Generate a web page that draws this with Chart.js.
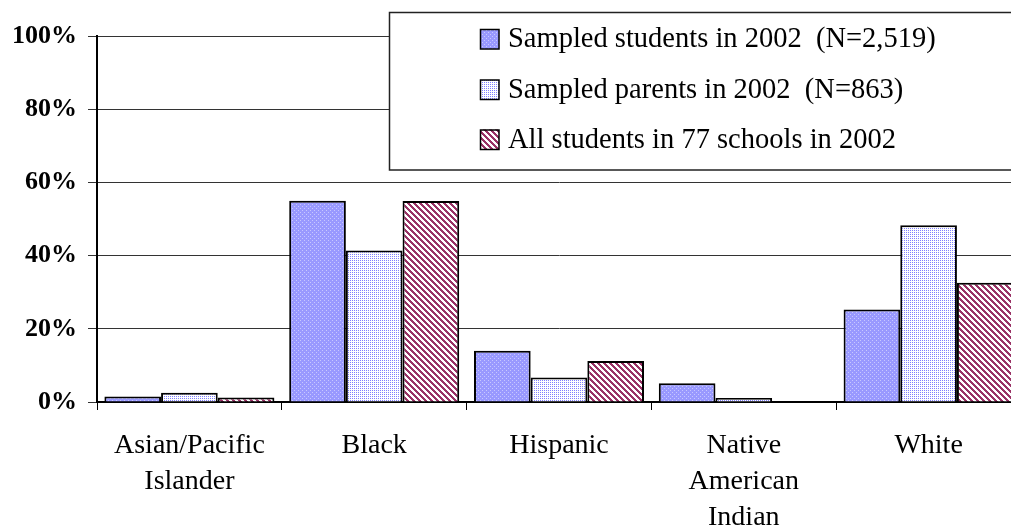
<!DOCTYPE html>
<html>
<head>
<meta charset="utf-8">
<script src="https://cdn.jsdelivr.net/npm/chart.js@4/dist/chart.umd.min.js"></script>
<style>
  html, body { margin: 0; padding: 0; background: #fff; overflow: hidden; }
  #wrap { position: relative; width: 1021px; height: 529px; }
</style>
</head>
<body>
<div id="wrap"><canvas id="c"></canvas></div>
<script>
const categories = [["Asian/Pacific", "Islander"], "Black", "Hispanic", ["Native", "American", "Indian"], "White"];
const seriesLabels = ["Sampled students in 2002  (N=2,519)", "Sampled parents in 2002  (N=863)", "All students in 77 schools in 2002"];
const sampledStudents = [1.5, 55.0, 14.0, 5.1, 25.3];
const sampledParents = [2.5, 41.4, 6.7, 1.1, 48.3];
const allStudents = [1.2, 54.9, 11.2, 0, 32.6];
const yTicks = [0, 20, 40, 60, 80, 100];

function makePattern(size, pix) {
  const c = document.createElement('canvas');
  c.width = size; c.height = size;
  const g = c.getContext('2d');
  const img = g.createImageData(size, size);
  for (let y = 0; y < size; y++) for (let x = 0; x < size; x++) {
    const col = pix(x, y);
    const i = (y * size + x) * 4;
    img.data[i] = col[0]; img.data[i + 1] = col[1]; img.data[i + 2] = col[2]; img.data[i + 3] = 255;
  }
  g.putImageData(img, 0, 0);
  return g.createPattern(c, 'repeat');
}
const patStudents = makePattern(4, (x, y) => ((x === 0 && y === 0) || (x === 2 && y === 2)) ? [200, 200, 255] : [153, 153, 255]);
const patParents = makePattern(2, (x, y) => (x === 0 && y === 0) ? [128, 128, 255] : [255, 255, 255]);
const patAll = makePattern(6, (x, y) => (((x - y) % 6 + 6) % 6) < 3 ? [153, 51, 102] : [255, 255, 255]);
const fills = [patStudents, patParents, patAll];

const legendBox = {
  id: 'legendBox',
  afterDraw(chart) {
    const ctx = chart.ctx;
    ctx.save();
    ctx.fillStyle = '#fff';
    ctx.strokeStyle = '#222';
    ctx.lineWidth = 1.5;
    ctx.fillRect(389, 12, 700, 158);
    ctx.strokeRect(389.5, 12.5, 700, 157.5);
    ctx.font = '28.5px "Liberation Serif", "Times New Roman", serif';
    ctx.textBaseline = 'middle';
    ctx.textAlign = 'left';
    const rows = [39, 89.5, 139.5];
    chart.data.datasets.forEach((ds, i) => {
      const cy = rows[i];
      ctx.fillStyle = ds.backgroundColor;
      ctx.fillRect(480, cy - 10, 19, 20);
      ctx.strokeStyle = '#000';
      ctx.lineWidth = 1.5;
      ctx.strokeRect(480.5, cy - 9.5, 18.5, 19.5);
      ctx.fillStyle = '#000';
      ctx.fillText(ds.label, 508, cy + 1);
    });
    ctx.restore();
  }
};

const mkDs = (label, data, fill) => ({
  label, data, backgroundColor: fill, borderColor: '#000', borderWidth: 2,
  categoryPercentage: 0.92, barPercentage: 1.0, borderSkipped: 'start'
});

new Chart(document.getElementById('c'), {
  type: 'bar',
  data: {
    labels: categories,
    datasets: [
      mkDs(seriesLabels[0], sampledStudents, fills[0]),
      mkDs(seriesLabels[1], sampledParents, fills[1]),
      mkDs(seriesLabels[2], allStudents, fills[2])
    ]
  },
  options: {
    responsive: true,
    maintainAspectRatio: false,
    animation: false,
    devicePixelRatio: 1,
    layout: { padding: { top: 36, right: 0, left: 0, bottom: 0 } },
    plugins: { legend: { display: false }, tooltip: { enabled: false } },
    scales: {
      x: {
        afterFit: s => { s.height = 127; },
        grid: { display: true, drawOnChartArea: false, drawTicks: true, tickLength: 8, offset: true, color: '#000', lineWidth: 1 },
        border: { display: true, color: '#000', width: 2 },
        ticks: {
          color: '#000', padding: 17, maxRotation: 0, autoSkip: false,
          font: { family: '"Liberation Serif", "Times New Roman", serif', size: 28, lineHeight: 1.3 }
        }
      },
      y: {
        min: 0, max: 100,
        afterFit: s => { s.width = 97; },
        afterBuildTicks: s => { s.ticks = yTicks.map(v => ({ value: v })); },
        grid: { color: '#333', lineWidth: 1, drawTicks: true, tickLength: 9 },
        border: { display: true, color: '#000', width: 2 },
        ticks: {
          color: '#000', padding: 11,
          callback: v => v + '%',
          font: { family: '"Liberation Serif", "Times New Roman", serif', size: 26, weight: 'bold' }
        }
      }
    }
  },
  plugins: [legendBox]
});
</script>
</body>
</html>
